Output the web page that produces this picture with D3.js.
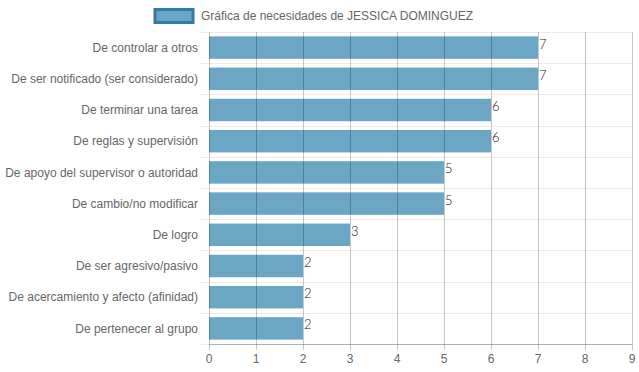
<!DOCTYPE html>
<html>
<head>
<meta charset="utf-8">
<script src="https://cdn.jsdelivr.net/npm/d3@7"></script>
<style>
  body { margin: 0; background: #fff; }
  svg text { font-family: "Liberation Sans", Arial, sans-serif; }
  svg text.vlab { font-family: Lato, "Liberation Sans", sans-serif; font-weight: 300; }
</style>
</head>
<body>
<div id="chart"></div>
<script>
const categories = [
  "De controlar a otros",
  "De ser notificado (ser considerado)",
  "De terminar una tarea",
  "De reglas y supervisión",
  "De apoyo del supervisor o autoridad",
  "De cambio/no modificar",
  "De logro",
  "De ser agresivo/pasivo",
  "De acercamiento y afecto (afinidad)",
  "De pertenecer al grupo"
]
const values = [7, 7, 6, 6, 5, 5, 3, 2, 2, 2]
const xTicks = [0, 1, 2, 3, 4, 5, 6, 7, 8, 9]
const seriesName = "Gráfica de necesidades de JESSICA DOMINGUEZ"

const width = 639, height = 372
const margin = { top: 32, right: 7, bottom: 28, left: 209 }
const innerW = width - margin.left - margin.right
const innerH = height - margin.top - margin.bottom

const svg = d3.select("#chart").append("svg")
  .attr("width", width)
  .attr("height", height)

const xScale = d3.scaleLinear().domain([0, 9]).range([0, innerW])
const yBand = d3.scaleBand().domain(categories).range([0, innerH])
const barH = yBand.bandwidth() * 0.72

const chart = svg.append("g")
  .attr("transform", `translate(${margin.left},${margin.top})`)

// horizontal grid lines (between categories), with small ticks to the left
const hLines = d3.range(categories.length + 1).map(i => i * yBand.step())
chart.selectAll(".hgrid")
  .data(hLines)
  .join("line")
    .attr("class", "hgrid")
    .attr("x1", -8).attr("x2", innerW)
    .attr("y1", d => Math.round(d) + 0.5).attr("y2", d => Math.round(d) + 0.5)
    .attr("stroke", "rgba(0,0,0,0.08)")

// bars
chart.selectAll(".bar")
  .data(values)
  .join("rect")
    .attr("class", "bar")
    .attr("fill", "#6ca6c5")
    .attr("x", xScale(0))
    .attr("y", (d, i) => yBand(categories[i]) + (yBand.bandwidth() - barH) / 2)
    .attr("width", d => xScale(d) - xScale(0))
    .attr("height", barH)

// vertical grid lines drawn over bars
chart.selectAll(".vgrid")
  .data(xTicks)
  .join("line")
    .attr("class", "vgrid")
    .attr("x1", d => Math.round(xScale(d)) + 0.5).attr("x2", d => Math.round(xScale(d)) + 0.5)
    .attr("y1", 0).attr("y2", innerH + 6)
    .attr("stroke", "rgba(0,0,0,0.22)")

// bottom axis line
chart.append("line")
  .attr("x1", 0).attr("x2", innerW)
  .attr("y1", innerH + 0.5).attr("y2", innerH + 0.5)
  .attr("stroke", "rgba(0,0,0,0.25)")

// x tick labels
chart.selectAll(".xlab")
  .data(xTicks)
  .join("text")
    .attr("class", "xlab")
    .attr("x", d => xScale(d))
    .attr("y", innerH + 19)
    .attr("text-anchor", "middle")
    .attr("font-size", 12)
    .attr("fill", "#666")
    .text(d => d)

// y category labels
chart.selectAll(".ylab")
  .data(categories)
  .join("text")
    .attr("class", "ylab")
    .attr("x", -11)
    .attr("y", d => yBand(d) + yBand.bandwidth() / 2)
    .attr("dy", "0.35em")
    .attr("text-anchor", "end")
    .attr("font-size", 12)
    .attr("fill", "#666")
    .text(d => d)

// value labels
chart.selectAll(".vlab")
  .data(values)
  .join("text")
    .attr("class", "vlab")
    .attr("x", d => xScale(d) + 1)
    .attr("y", (d, i) => yBand(categories[i]) + yBand.bandwidth() / 2 + 1)
    .attr("font-size", 13)
    .attr("fill", "#111")
    .text(d => d)

// legend
const legend = svg.append("g")
legend.append("rect")
  .attr("x", 155).attr("y", 9.5)
  .attr("width", 38).attr("height", 13)
  .attr("fill", "#6ca6c5")
  .attr("stroke", "#2f7aa8")
  .attr("stroke-width", 3)
legend.append("text")
  .attr("x", 201).attr("y", 20)
  .attr("font-size", 12)
  .attr("fill", "#666")
  .text(seriesName)
</script>
</body>
</html>
